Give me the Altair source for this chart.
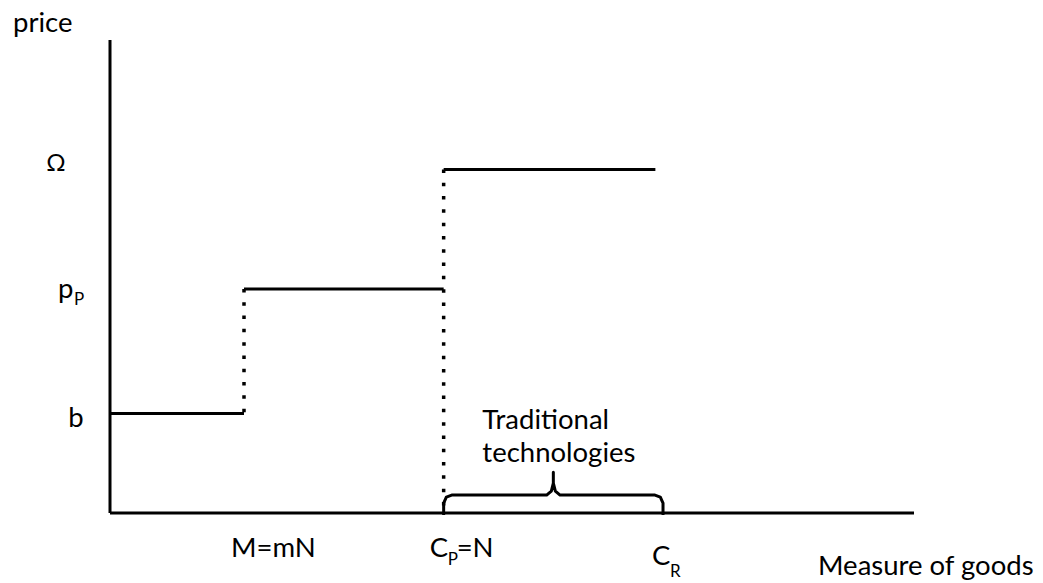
import altair as alt
import pandas as pd

# ---- model values (data units) ----
X_MAX = 6.0          # end of quantity axis
Y_MAX = 4.75         # top of price axis
M_VAL = 1.0          # M = mN
CP_VAL = 2.49        # C_P = N
CR_VAL = 4.127       # C_R
OMEGA_END = 4.07     # end of the Omega segment
B_VAL = 1.0          # b
PP_VAL = 2.25        # p_P
OMEGA_VAL = 3.45     # Omega

# solid step segments
seg_x0 = [0.0, M_VAL, CP_VAL]
seg_x1 = [M_VAL, CP_VAL, OMEGA_END]
seg_y = [B_VAL, PP_VAL, OMEGA_VAL]

# dotted vertical jumps
dot_x = [M_VAL, CP_VAL]
dot_y0 = [B_VAL, 0.0]
dot_y1 = [PP_VAL, OMEGA_VAL]

# brace over traditional technologies (shape, relative to CP..CR)
BRACE_MID = (CP_VAL + CR_VAL) / 2
brace_x = [CP_VAL, CP_VAL, CP_VAL + 0.02, CP_VAL + 0.06, BRACE_MID - 0.05, BRACE_MID - 0.015,
           BRACE_MID, BRACE_MID, BRACE_MID, BRACE_MID + 0.015, BRACE_MID + 0.05,
           CR_VAL - 0.06, CR_VAL - 0.02, CR_VAL, CR_VAL]
brace_y = [-0.02, 0.10, 0.16, 0.18, 0.18, 0.22, 0.30, 0.41, 0.30, 0.22, 0.18,
           0.18, 0.16, 0.10, -0.02]

FONT = "Lato, 'Open Sans', 'DejaVu Sans', sans-serif"
W, H = 804, 473

xs = alt.Scale(domain=[0, X_MAX], nice=False, zero=False)
ys = alt.Scale(domain=[0, Y_MAX], nice=False, zero=False)


def X(f):
    return alt.X(f, scale=xs, axis=None, type="quantitative")


def Y(f):
    return alt.Y(f, scale=ys, axis=None, type="quantitative")


# axes lines
axes_df = pd.DataFrame({"x0": [0.0, 0.0], "x1": [X_MAX, 0.0], "y0": [0.0, 0.0], "y1": [0.0, Y_MAX]})
axes = alt.Chart(axes_df).mark_rule(color="black", strokeWidth=3).encode(
    x=X("x0"), x2="x1", y=Y("y0"), y2="y1")

segs_df = pd.DataFrame({"x0": seg_x0, "x1": seg_x1, "y": seg_y})
segs = alt.Chart(segs_df).mark_rule(color="black", strokeWidth=3).encode(
    x=X("x0"), x2="x1", y=Y("y"))

dots_df = pd.DataFrame({"x": dot_x, "y0": dot_y1, "y1": dot_y0})
dots = alt.Chart(dots_df).mark_rule(color="black", strokeWidth=3.5, strokeDash=[3.5, 9.8], strokeCap="butt").encode(
    x=X("x"), y=Y("y0"), y2="y1")

brace_df = pd.DataFrame({"x": brace_x, "y": brace_y, "o": list(range(len(brace_x)))})
brace = alt.Chart(brace_df).mark_line(color="black", strokeWidth=3, strokeJoin="round").encode(
    x=X("x"), y=Y("y"), order="o:Q")


def label(text, x, y, dx, dy, size=27.5, align="left"):
    df = pd.DataFrame({"t": [text], "x": [x], "y": [y]})
    return alt.Chart(df).mark_text(align=align, baseline="alphabetic", dx=dx, dy=dy,
                                   fontSize=size, font=FONT, color="black").encode(
        x=X("x"), y=Y("y"), text="t:N")


labels = [
    label("price", 0.0, Y_MAX, -97, -8),
    label("Ω", 0.0, OMEGA_VAL, -54, 2, size=24, align="center"),
    label("p", 0.0, PP_VAL, -52, 9),
    label("P", 0.0, PP_VAL, -36, 16, size=17),
    label("b", 0.0, B_VAL, -34, 14, align="center"),
    label("M=mN", M_VAL, 0.0, -13, 44),
    label("C", CP_VAL, 0.0, -14, 44),
    label("P", CP_VAL, 0.0, 4, 52, size=17),
    label("=N", CP_VAL, 0.0, 13, 44),
    label("C", CR_VAL, 0.0, -11, 52),
    label("R", CR_VAL, 0.0, 7, 64, size=17),
    label("Measure of goods", X_MAX, 0.0, -96, 62),
    label("Traditional", BRACE_MID, 0.41, -71, -43),
    label("technologies", BRACE_MID, 0.41, -71, -10),
]

chart = alt.layer(axes, segs, dots, brace, *labels).properties(
    width=W, height=H,
    padding={"left": 102, "top": 32, "right": 121, "bottom": 70},
    autosize=alt.AutoSizeParams(type="none"),
).configure_view(stroke=None)

chart.save("out.html", embed_options={"renderer": "svg", "actions": False})
